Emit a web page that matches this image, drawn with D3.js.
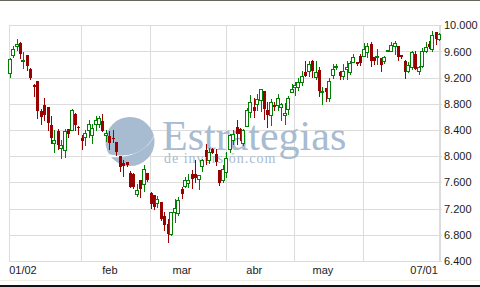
<!DOCTYPE html>
<html>
<head>
<meta charset="utf-8">
<script src="https://cdn.jsdelivr.net/npm/d3@7"></script>
<style>
body{margin:0;background:#fff;}
</style>
</head>
<body>
<div id="chart"></div>
<script>
// daily candles, 02 Jan -> 01 Jul (trading days only)
var openV  = [9267,9553,9679,9736,9465,9542,9339,9094,9145,8687,8778,8747,8473,8209,8381,8132,8091,8412,8408,8651,8450,
              8279,8295,8408,8331,8499,8499,8534,8326,8305,8285,8219,8000,7897,7908,7745,7735,7420,7633,7572,7740,
              7442,7404,7287,7302,7084,6971,6808,7150,7140,7506,7547,7593,7736,7736,7648,7847,8102,7949,8117,8040,7786,7644,
              7760,8117,8244,8448,8423,8203,8458,8677,8753,8794,8865,8997,8713,8626,8778,8779,8753,8626,8728,8982,
              9052,9052,9130,9293,9308,9461,9206,9323,8987,9038,8885,9241,9359,9283,9232,9333,9293,9446,9435,9527,
              9537,9588,9715,9511,9511,9496,9461,9613,9613,9680,9680,9546,9461,9308,9359,9562,9308,9385,9613,9715,9638,9893,
              9791];
var highV  = [9496,9679,9797,9740,9592,9545,9345,9110,9150,8728,8885,8750,8610,8397,8423,8244,8423,8420,8728,8655,8455,
              8320,8397,8560,8499,8610,8610,8646,8397,8387,8397,8225,8005,7938,7915,7775,7740,7583,7640,7862,7745,
              7456,7410,7395,7305,7150,7048,7150,7353,7384,7532,7685,7736,7786,7939,7712,7964,8190,8133,8120,8117,7790,7862,
              8066,8346,8397,8550,8425,8423,8733,8936,8890,8956,9033,9000,8830,8870,8830,8956,8810,8809,8926,9110,
              9133,9190,9308,9461,9461,9465,9450,9369,9054,9040,9190,9410,9410,9308,9410,9461,9461,9563,9445,9563,
              9730,9730,9745,9520,9638,9500,9530,9630,9750,9760,9690,9550,9465,9440,9614,9612,9384,9660,9740,9760,9908,9895,
              9880];
var lowV   = [9206,9516,9629,9507,9354,9313,9175,8916,8584,8488,8549,8397,8203,8065,8112,7973,7989,8300,8400,8400,8336,
              8117,8168,8295,8209,8408,8453,8387,8239,8112,8219,8016,7770,7694,7850,7531,7511,7389,7378,7470,7620,
              7206,7201,7226,7033,6878,6691,6793,7000,7109,7359,7532,7532,7517,7613,7506,7770,7888,7898,8050,7862,7562,7613,
              7684,8066,8193,8193,8244,8168,8458,8601,8601,8713,8692,8575,8448,8473,8700,8702,8550,8499,8651,8982,
              8936,9006,9087,9220,9232,9207,9180,8926,8800,8850,8850,9195,9333,9180,9180,9180,9256,9435,9400,9389,
              9537,9512,9385,9410,9410,9308,9430,9600,9600,9563,9465,9500,9191,9283,9333,9333,9262,9359,9598,9650,9608,9715,
              9780];
var closeV = [9480,9644,9720,9568,9475,9378,9195,9058,8687,8600,8626,8503,8279,8244,8168,8178,8381,8346,8702,8473,8428,
              8234,8356,8499,8438,8549,8591,8390,8361,8203,8264,8066,7836,7847,7862,7535,7531,7491,7506,7812,7633,
              7277,7226,7353,7040,6947,6819,7150,7211,7338,7430,7644,7644,7659,7674,7709,7949,7990,8066,8056,7913,7593,7812,
              7980,8320,8346,8346,8346,8407,8713,8830,8692,8880,9033,8728,8626,8830,8753,8896,8794,8661,8896,9033,
              9087,9140,9232,9232,9409,9308,9282,9003,9003,8977,9156,9333,9384,9232,9308,9369,9425,9511,9410,9425,
              9638,9680,9461,9461,9537,9394,9511,9629,9700,9730,9511,9511,9283,9394,9588,9333,9359,9613,9665,9665,9852,9792,
              9868];

// month starts (index of first trading day) and the x labels
var monthStart = [0,21,41,63,83,103];
var labelIdx   = [0,29,50,71,91,125];
var labelText  = ['01/02','feb','mar','abr','may','07/01'];
var yTicks     = [6400,6800,7200,7600,8000,8400,8800,9200,9600,10000];

var w = 480, h = 287;
var red = '#990000', green = '#008000', grid = '#dcdcdc';
var serif = '"Liberation Serif","Times New Roman",serif';

var svg = d3.select('div#chart').append('svg')
			.attr('width',w)
			.attr('height',h);

var x = d3.scaleLinear().domain([0,125]).range([9.7,439.3]);
var y = d3.scaleLinear().domain([6400,10000]).range([261,25.3]);

//frame lines top / bottom
svg.append('rect').attr('x',0).attr('y',0).attr('width',w).attr('height',1).attr('fill','#66665a');
svg.append('rect').attr('x',0).attr('y',280).attr('width',w).attr('height',1).attr('fill','#efefe2');
svg.append('rect').attr('x',0).attr('y',285).attr('width',w).attr('height',2).attr('fill','#111');

//grid
var gridG = svg.append('g').attr('shape-rendering','crispEdges');

gridG.selectAll('line.h').data(yTicks).enter()
		.append('line')
		.attr('class','h')
		.attr('x1',9).attr('x2',442)
		.attr('y1',function(d){return Math.round(y(d))+0.5;})
		.attr('y2',function(d){return Math.round(y(d))+0.5;})
		.attr('stroke',grid);

gridG.selectAll('line.v').data(monthStart).enter()
		.append('line')
		.attr('class','v')
		.attr('x1',function(d){return Math.floor(x(d))+0.5;})
		.attr('x2',function(d){return Math.floor(x(d))+0.5;})
		.attr('y1',25).attr('y2',262)
		.attr('stroke',grid);

gridG.append('rect')
		.attr('x',439).attr('y',25).attr('width',2).attr('height',237)
		.attr('fill',grid);

//watermark (logo + name, one text block)
var wm = svg.append('g').attr('fill','#a7bbd1');
wm.append('circle').attr('cx',130).attr('cy',141.5).attr('r',24.5);
wm.append('path')
	.attr('d','M104,153 C120,158 146,158 156,131 C151,151 126,161 104,156 Z')
	.attr('fill','#fff');
var wmText = wm.append('text').style('font-family',serif);
wmText.append('tspan')
	.attr('x',162).attr('y',150)
	.style('font-size','42px')
	.text('Estrategias');
wmText.append('tspan')
	.attr('x',164).attr('y',163)
	.style('font-size','14px')
	.style('letter-spacing','1px')
	.text('de inversión.com');

//candles
var candles = svg.append('g').attr('shape-rendering','crispEdges')
				.selectAll('g').data(openV).enter()
				.append('g');

candles.append('line')
		.attr('x1',function(d,i){return Math.round(x(i))+0.5;})
		.attr('x2',function(d,i){return Math.round(x(i))+0.5;})
		.attr('y1',function(d,i){return Math.round(y(highV[i]));})
		.attr('y2',function(d,i){return Math.round(y(lowV[i]))+1;})
		.attr('stroke',function(d,i){return closeV[i] >= openV[i] ? green : red;});

candles.append('rect')
		.attr('x',function(d,i){
			return closeV[i] >= openV[i] ? Math.round(x(i))-1.5 : Math.round(x(i))-1;
		})
		.attr('y',function(d,i){
			var top = Math.round(y(Math.max(openV[i],closeV[i])));
			return closeV[i] >= openV[i] ? top+0.5 : top;
		})
		.attr('width',3)
		.attr('height',function(d,i){
			var hh = Math.round(y(Math.min(openV[i],closeV[i]))) - Math.round(y(Math.max(openV[i],closeV[i])));
			return Math.max(1,hh);
		})
		.attr('fill',function(d,i){return closeV[i] >= openV[i] ? '#fff' : red;})
		.attr('stroke',function(d,i){return closeV[i] >= openV[i] ? green : 'none';});

//axes
var fmt = d3.formatLocale({decimal:',',thousands:'.',grouping:[3],currency:['','']}).format(',');

var yAxis = svg.append('g')
				.attr('transform','translate(441,0)')
				.call(d3.axisRight(y).tickValues(yTicks).tickFormat(fmt).tickSize(0).tickPadding(3));

var xAxis = svg.append('g')
				.attr('transform','translate(0,261)')
				.call(d3.axisBottom(x).tickValues(labelIdx)
						.tickFormat(function(d,i){return labelText[i];})
						.tickSize(0).tickPadding(5.5));

svg.selectAll('.domain').remove();
svg.selectAll('.tick text')
	.style('font-family','"Liberation Sans",Arial,sans-serif')
	.style('font-size','11px')
	.attr('fill','#1a1a1a');

xAxis.selectAll('.tick text')
	.attr('text-anchor',function(d,i){
		return i === 0 ? 'start' : (i === labelIdx.length-1 ? 'end' : 'middle');
	})
	.attr('x',function(d,i){
		return i === 0 ? -1 : (i === labelIdx.length-1 ? -2 : 0);
	});
</script>
</body>
</html>
